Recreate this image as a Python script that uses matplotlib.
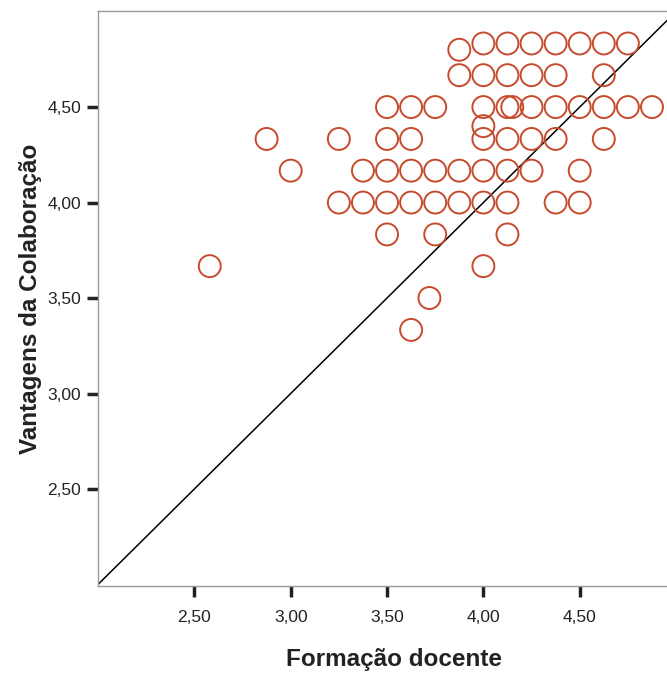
import matplotlib
matplotlib.use("Agg")
import matplotlib.pyplot as plt

plt.rcParams['font.family'] = ['Liberation Sans', 'DejaVu Sans']

# Data (Formação docente vs Vantagens da Colaboração)
formacao = [
    4.0, 4.125, 4.25, 4.375, 4.5, 4.625, 4.75,
    3.875,
    3.875, 4.0, 4.125, 4.25, 4.375, 4.625,
    3.5, 3.625, 3.75, 4.0, 4.125, 4.15, 4.25, 4.375, 4.5, 4.625, 4.75, 4.875,
    4.0,
    2.875, 3.25, 3.5, 3.625, 4.0, 4.125, 4.25, 4.375, 4.625,
    3.0, 3.375, 3.5, 3.625, 3.75, 3.875, 4.0, 4.125, 4.25, 4.5,
    3.25, 3.375, 3.5, 3.625, 3.75, 3.875, 4.0, 4.125, 4.375, 4.5,
    3.5, 3.75, 4.125,
    2.58, 4.0,
    3.72,
    3.625,
]
vantagens = [
    4.833, 4.833, 4.833, 4.833, 4.833, 4.833, 4.833,
    4.8,
    4.667, 4.667, 4.667, 4.667, 4.667, 4.667,
    4.5, 4.5, 4.5, 4.5, 4.5, 4.5, 4.5, 4.5, 4.5, 4.5, 4.5, 4.5,
    4.4,
    4.333, 4.333, 4.333, 4.333, 4.333, 4.333, 4.333, 4.333, 4.333,
    4.167, 4.167, 4.167, 4.167, 4.167, 4.167, 4.167, 4.167, 4.167, 4.167,
    4.0, 4.0, 4.0, 4.0, 4.0, 4.0, 4.0, 4.0, 4.0, 4.0,
    3.833, 3.833, 3.833,
    3.667, 3.667,
    3.5,
    3.333,
]

tick_values = [2.5, 3.0, 3.5, 4.0, 4.5]
tick_labels = ["2,50", "3,00", "3,50", "4,00", "4,50"]

fig = plt.figure(figsize=(6.67, 6.74), dpi=100)
ax = fig.add_axes([98/667, 88/674, 1 - 98/667, 575/674])

ax.scatter(formacao, vantagens, s=250, facecolors='none',
           edgecolors='#c84a2c', linewidths=1.4, zorder=3)
ax.axline((0, 0), slope=1, color='black', linewidth=1.1, zorder=2)

ax.set_xlim(2.0, 4.953)
ax.set_ylim(1.992, 5.003)

ax.set_xticks(tick_values)
ax.set_xticklabels(tick_labels)
ax.set_yticks(tick_values)
ax.set_yticklabels(tick_labels)

ax.tick_params(axis='both', direction='out', length=8, width=2.5,
               color='#222222', labelsize=12.5, labelcolor='#222222')
ax.tick_params(axis='x', pad=9)
ax.tick_params(axis='y', pad=4)

for side in ['left', 'top', 'bottom']:
    ax.spines[side].set_color('#9a9a9a')
    ax.spines[side].set_linewidth(1.0)
ax.spines['right'].set_visible(False)

ax.set_xlabel("Formação docente", fontsize=17.5, fontweight='bold', color='#222222')
ax.set_ylabel("Vantagens da Colaboração", fontsize=17.5, fontweight='bold', color='#222222')
ax.xaxis.set_label_coords(0.52, -0.107)
ax.yaxis.set_label_coords(-0.098, 0.5)

fig.savefig("out.png", dpi=100)
